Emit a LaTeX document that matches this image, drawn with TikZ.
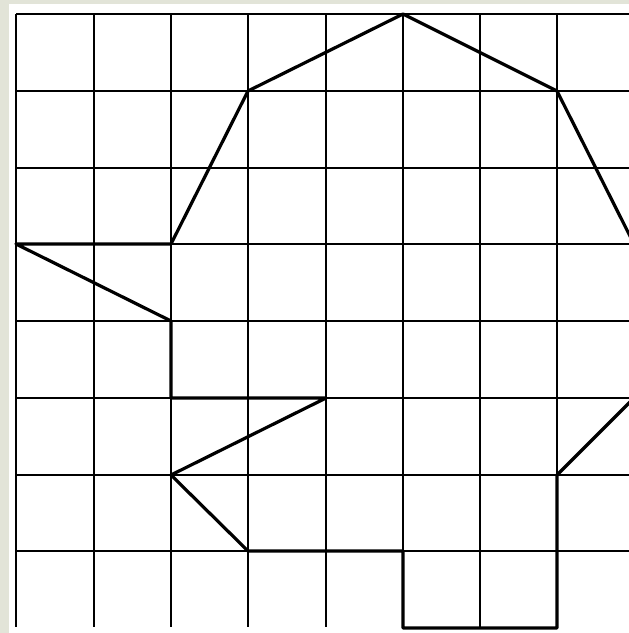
\documentclass[tikz,border=0pt]{standalone}
\definecolor{margin}{RGB}{226,228,216}
\tikzset{
  gridline/.style={line width=1.7pt, black},
  shapeline/.style={line width=3.2pt, black, line join=round, line cap=round}
}
\begin{document}
\begin{tikzpicture}[x=1pt,y=-1pt]
\useasboundingbox (0,0) rectangle (629,633);
\fill[margin] (0,0) rectangle (629,633);
\fill[white] (9,4) rectangle (629,633);
\clip (0,0) rectangle (629,633);
% grid columns and rows
\def\xs{16,94,171,248,326,403,480,557,634}
\def\ys{14,91,168,244,321,398,475,551}
\foreach \x in \xs { \draw[gridline] (\x,14) -- (\x,627); }
\foreach \y in \ys { \draw[gridline] (16,\y) -- (640,\y); }
% outline shape
\draw[shapeline]
  (403,14) -- (557,91) -- (634,244) -- (634,398) -- (557,475) -- (557,628)
  -- (403,628) -- (403,551) -- (248,551) -- (171,475) -- (326,398)
  -- (171,398) -- (171,321) -- (16,244) -- (171,244) -- (248,91) -- cycle;
\end{tikzpicture}
\end{document}
